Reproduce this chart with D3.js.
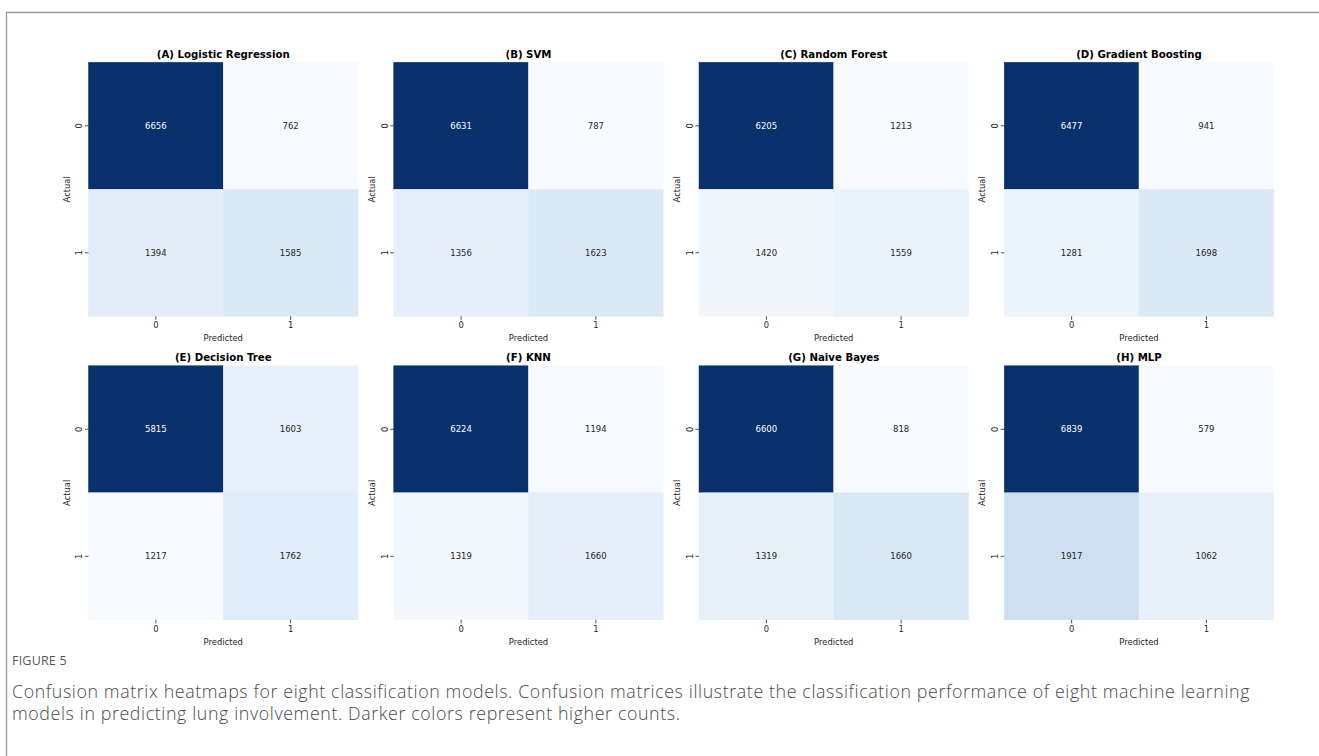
<!DOCTYPE html>
<html>
<head>
<meta charset="utf-8">
<script src="https://cdn.jsdelivr.net/npm/d3@7"></script>
<style>
  html, body { margin: 0; padding: 0; background: #fff; }
  svg { display: block; }
</style>
</head>
<body>
<svg id="fig" width="1319" height="756"></svg>
<script>
// Model names shown above each confusion matrix
const modelTitles = [
  "(A) Logistic Regression", "(B) SVM", "(C) Random Forest", "(D) Gradient Boosting",
  "(E) Decision Tree", "(F) KNN", "(G) Naive Bayes", "(H) MLP"
];
// Counts per model: [actual 0 → predicted 0, actual 0 → predicted 1, actual 1 → predicted 0, actual 1 → predicted 1]
const trueNeg  = [6656, 6631, 6205, 6477, 5815, 6224, 6600, 6839];
const falsePos = [762,  787,  1213, 941,  1603, 1194, 818,  579];
const falseNeg = [1394, 1356, 1420, 1281, 1217, 1319, 1319, 1917];
const truePos  = [1585, 1623, 1559, 1698, 1762, 1660, 1660, 1062];
// Class labels on both axes
const classLabels = ["0", "1"];
const captionHead = "FIGURE 5";
const captionLines = [
  "Confusion matrix heatmaps for eight classification models. Confusion matrices illustrate the classification performance of eight machine learning",
  "models in predicting lung involvement. Darker colors represent higher counts."
];

// Matplotlib "Blues" colormap stops (linear segments)
const bluesStops = ["#f7fbff","#deebf7","#c6dbef","#9ecae1","#6baed6","#4292c6","#2171b5","#08519c","#08306b"];
const blues = d3.scaleLinear()
  .domain(d3.range(bluesStops.length).map(i => i / (bluesStops.length - 1)))
  .range(bluesStops)
  .interpolate(d3.interpolateRgb)
  .clamp(true);

const svg = d3.select("#fig");
const textFont = "DejaVu Sans, Verdana, sans-serif";
const inkColor = "#262626";

// Outer frame of the figure box
svg.append("path")
  .attr("d", "M6.5,756 V12.5 H1319")
  .attr("fill", "none")
  .attr("stroke", "#9b9b9b")
  .attr("stroke-width", 1.3);

// Grid geometry of the panels
const panelW = 269.5, panelH = 254;
const originX = 88.5, originY = 62.3;
const stepX = 305.25, stepY = 303.5;

modelTitles.forEach((title, k) => {
  const col = k % 4, row = Math.floor(k / 4);
  const g = svg.append("g")
    .attr("transform", `translate(${originX + col * stepX},${originY + row * stepY})`);

  const matrix = [
    { a: 0, p: 0, v: trueNeg[k] },
    { a: 0, p: 1, v: falsePos[k] },
    { a: 1, p: 0, v: falseNeg[k] },
    { a: 1, p: 1, v: truePos[k] }
  ];
  const vals = matrix.map(d => d.v);
  const norm = d3.scaleLinear().domain([d3.min(vals), d3.max(vals)]).range([0, 1]);

  const x = d3.scaleBand().domain(classLabels).range([0, panelW]);
  const y = d3.scaleBand().domain(classLabels).range([0, panelH]);

  g.selectAll("rect.cell")
    .data(matrix)
    .join("rect")
    .attr("class", "cell")
    .attr("x", d => x(classLabels[d.p]))
    .attr("y", d => y(classLabels[d.a]))
    .attr("width", x.bandwidth())
    .attr("height", y.bandwidth())
    .attr("fill", d => blues(norm(d.v)))
    .attr("stroke", d => blues(norm(d.v)))
    .attr("stroke-width", 0.5);

  // Count annotations, light text on dark cells
  g.selectAll("text.count")
    .data(matrix)
    .join("text")
    .attr("class", "count")
    .attr("x", d => x(classLabels[d.p]) + x.bandwidth() / 2)
    .attr("y", d => y(classLabels[d.a]) + y.bandwidth() / 2)
    .attr("dy", "0.35em")
    .attr("text-anchor", "middle")
    .attr("font-family", textFont)
    .attr("font-size", 8.5)
    .attr("fill", d => {
      const c = d3.rgb(blues(norm(d.v)));
      const lum = 0.2126 * c.r + 0.7152 * c.g + 0.0722 * c.b;
      return lum < 104 ? "#ffffff" : inkColor;
    })
    .text(d => d.v);

  // Bottom axis: predicted class
  const xAxis = g.append("g")
    .attr("transform", `translate(0,${panelH})`)
    .call(d3.axisBottom(x).tickSize(3.5).tickPadding(2.5));
  xAxis.select(".domain").remove();
  xAxis.selectAll(".tick line").attr("stroke", inkColor).attr("stroke-width", 0.8);
  xAxis.selectAll(".tick text")
    .attr("font-family", textFont).attr("font-size", 8.4).attr("fill", inkColor);

  // Left axis: actual class, labels turned upright
  const yAxis = g.append("g")
    .call(d3.axisLeft(y).tickSize(3.5).tickPadding(2.5));
  yAxis.select(".domain").remove();
  yAxis.selectAll(".tick line").attr("stroke", inkColor).attr("stroke-width", 0.8);
  yAxis.selectAll(".tick text")
    .attr("font-family", textFont).attr("font-size", 8.4).attr("fill", inkColor)
    .attr("text-anchor", "middle")
    .attr("dy", null)
    .attr("x", -9.2)
    .attr("transform", "rotate(-90,-9.2,0)")
    .attr("dominant-baseline", "central");

  g.append("text")
    .attr("x", panelW / 2)
    .attr("y", panelH + 25)
    .attr("text-anchor", "middle")
    .attr("font-family", textFont)
    .attr("font-size", 8.4)
    .attr("fill", inkColor)
    .text("Predicted");

  g.append("text")
    .attr("transform", `translate(-21.8,${panelH / 2}) rotate(-90)`)
    .attr("text-anchor", "middle")
    .attr("dominant-baseline", "central")
    .attr("font-family", textFont)
    .attr("font-size", 8.4)
    .attr("fill", inkColor)
    .text("Actual");

  g.append("text")
    .attr("x", panelW / 2)
    .attr("y", -4.8)
    .attr("text-anchor", "middle")
    .attr("font-family", textFont)
    .attr("font-weight", "bold")
    .attr("font-size", 10.2)
    .attr("fill", "#000")
    .text(title);
});

// Figure caption
const capFont = "'Open Sans', 'Noto Sans', sans-serif";
svg.append("text")
  .attr("x", 12)
  .attr("y", 665)
  .attr("font-family", capFont)
  .attr("font-size", 12.5)
  .attr("letter-spacing", 0.2)
  .attr("fill", "#555")
  .text(captionHead);

svg.selectAll("text.caption")
  .data(captionLines)
  .join("text")
  .attr("class", "caption")
  .attr("x", 12)
  .attr("y", (d, i) => 698 + i * 21.5)
  .attr("font-family", capFont)
  .attr("font-weight", 300)
  .attr("font-size", 17.8)
  .attr("letter-spacing", 0.62)
  .attr("fill", "#4a4a4a")
  .text(d => d);
</script>
</body>
</html>
